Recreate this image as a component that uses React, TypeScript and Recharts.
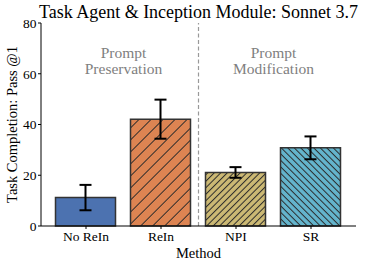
import { BarChart, Bar, XAxis, YAxis, Cell, ErrorBar, ReferenceLine, ReferenceDot } from 'recharts';

const METHODS = ['No ReIn', 'ReIn', 'NPI', 'SR'];
const PASS_AT_1 = [11.2, 42.1, 21.1, 30.8];
const ERR = [5.0, 7.7, 2.1, 4.5];
const Y_TICKS = [0, 20, 40, 60, 80];
const FILLS = ['#4c72b0', 'url(#hatchReIn)', 'url(#hatchNPI)', 'url(#hatchSR)'];

const data = METHODS.map((m, i) => ({ pos: i, name: m, value: PASS_AT_1[i], err: ERR[i] }));

const FONT = '"Liberation Serif", "Times New Roman", serif';

const GroupNote = ({ viewBox, lines }: any) => {
  const x = viewBox.x + viewBox.width / 2;
  const y = viewBox.y + viewBox.height / 2;
  return (
    <text x={x} y={y} textAnchor="middle" fill="#808080" fontSize={15.5} fontFamily={FONT}>
      <tspan x={x} dy={-3}>{lines[0]}</tspan>
      <tspan x={x} dy={16}>{lines[1]}</tspan>
    </text>
  );
};

const YTitle = ({ viewBox }: any) => {
  const cy = viewBox.y + viewBox.height / 2;
  return (
    <text x={12} y={cy} transform={`rotate(-90, 12, ${cy})`} textAnchor="middle" dominantBaseline="central"
      fontSize={14.5} fontFamily={FONT} fill="#000">
      Task Completion: Pass @1
    </text>
  );
};

const XTitle = ({ viewBox }: any) => {
  const cx = viewBox.x + viewBox.width / 2;
  return (
    <text x={cx} y={257.5} textAnchor="middle" fontSize={14.5} fontFamily={FONT} fill="#000">
      Method
    </text>
  );
};

const hatch = (id: string, color: string, size: number, angle: number) => (
  <pattern id={id} patternUnits="userSpaceOnUse" width={size} height={size} patternTransform={`rotate(${angle})`}>
    <rect width={size} height={size} fill={color} />
    <line x1={size / 2} y1={0} x2={size / 2} y2={size} stroke="#2a2a2a" strokeWidth={1} />
  </pattern>
);

export default function App() {
  return (
    <div style={{ position: 'absolute', left: 0, top: 0, width: 365, height: 267, background: '#fff', fontFamily: FONT }}>
      <div style={{ position: 'absolute', left: 198.5, top: 1, transform: 'translateX(-50%)', whiteSpace: 'nowrap', fontSize: 18, lineHeight: '22px', color: '#000' }}>
        Task Agent &amp; Inception Module: Sonnet 3.7
      </div>
      <BarChart width={365} height={267} data={data} margin={{ top: 23, right: 9, left: 0, bottom: 0 }}>
        <defs>
          {hatch('hatchReIn', '#dd8452', 8.5, 45)}
          {hatch('hatchNPI', '#ccb974', 4.6, 45)}
          {hatch('hatchSR', '#64b5cd', 4.6, -45)}
        </defs>
        <XAxis
          dataKey="pos"
          type="number"
          domain={[-0.6, 3.6]}
          ticks={[0, 1, 2, 3]}
          tickFormatter={(v) => METHODS[v]}
          tick={{ fontSize: 13.5, fill: '#000', fontFamily: FONT }}
          tickSize={3}
          tickMargin={2}
          axisLine={{ stroke: '#000', strokeWidth: 1 }}
          tickLine={{ stroke: '#000' }}
          height={41}
          allowDataOverflow
          label={<XTitle />}
        />
        <YAxis
          domain={[0, 80]}
          ticks={Y_TICKS}
          tick={{ fontSize: 13.5, fill: '#000', fontFamily: FONT }}
          tickSize={3}
          tickMargin={1.5}
          axisLine={{ stroke: '#000', strokeWidth: 1 }}
          tickLine={{ stroke: '#000' }}
          width={41}
          label={<YTitle />}
        />
        <ReferenceLine x={1.5} stroke="#999" strokeDasharray="4 2.5" strokeWidth={1.2} />
        <ReferenceDot x={0.5} y={65} r={0} fill="none" stroke="none" label={<GroupNote lines={['Prompt', 'Preservation']} />} />
        <ReferenceDot x={2.5} y={65} r={0} fill="none" stroke="none" label={<GroupNote lines={['Prompt', 'Modification']} />} />
        <Bar dataKey="value" barSize={60} isAnimationActive={false} stroke="#333" strokeWidth={1.5}>
          {data.map((_, i) => (
            <Cell key={i} fill={FILLS[i]} />
          ))}
          <ErrorBar dataKey="err" width={6} strokeWidth={2} stroke="#000" />
        </Bar>
      </BarChart>
    </div>
  );
}
